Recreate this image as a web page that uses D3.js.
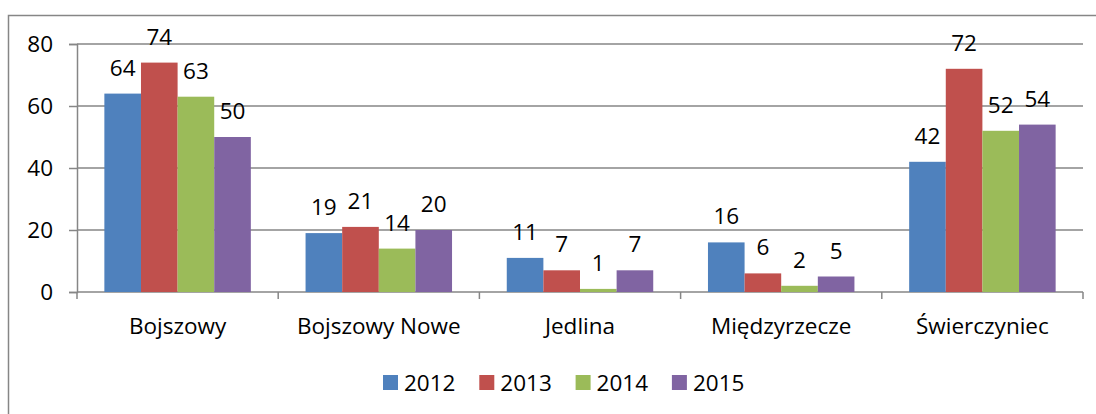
<!DOCTYPE html>
<html>
<head>
<meta charset="utf-8">
<script src="https://cdn.jsdelivr.net/npm/d3@7"></script>
<style>
  body { margin: 0; background: #fff; }
  text { font-family: "Open Sans", Lato, sans-serif; fill: #000; }
</style>
</head>
<body>
<svg id="svg"></svg>
<script>
// chart data
var categories = ["Bojszowy", "Bojszowy Nowe", "Jedlina", "Międzyrzecze", "Świerczyniec"];
var years = ["2012", "2013", "2014", "2015"];
var v2012 = [64, 19, 11, 16, 42];
var v2013 = [74, 21, 7, 6, 72];
var v2014 = [63, 14, 1, 2, 52];
var v2015 = [50, 20, 7, 5, 54];
var yTicks = [0, 20, 40, 60, 80];
var colors = ["#4F81BD", "#C0504D", "#9BBB59", "#8064A2"];

var series = [v2012, v2013, v2014, v2015];

svg = d3.select("#svg")
        .attr("width", 1096)
        .attr("height", 414);

// outer frame
svg.append("rect")
   .attr("x", 8.5).attr("y", 15.5)
   .attr("width", 1100).attr("height", 420)
   .attr("fill", "none")
   .attr("stroke", "#868686")
   .attr("stroke-width", 1.5);

var plotL = 77, plotR = 1083, plotT = 44, plotB = 292;
var fs = "22.5px";

x0 = d3.scaleBand().domain(categories).range([plotL, plotR]).paddingInner(0.272).paddingOuter(0.136);
x1 = d3.scaleBand().domain(years).range([0, x0.bandwidth()]);
y = d3.scaleLinear().domain([0, 80]).range([plotB, plotT]);

// gridlines
svg.append("g").selectAll("line")
   .data(yTicks.filter(function(d){ return d > 0; }))
   .enter().append("line")
   .attr("x1", plotL).attr("x2", plotR)
   .attr("y1", function(d){ return y(d); })
   .attr("y2", function(d){ return y(d); })
   .attr("stroke", "#868686").attr("stroke-width", 1.5);

// y axis
yAxis = svg.append("g")
   .attr("transform", "translate(" + plotL + ",0)")
   .call(d3.axisLeft(y).tickValues(yTicks).tickSize(8).tickPadding(16));
yAxis.select(".domain").attr("stroke", "#868686").attr("stroke-width", 1.5);
yAxis.selectAll(".tick line").attr("stroke", "#868686").attr("stroke-width", 1.5);
yAxis.selectAll("text").style("font-size", fs).attr("fill", "#000")
     .style("font-family", "'Open Sans', Lato, sans-serif");

// x axis
var bounds = d3.range(categories.length + 1).map(function(i){ return plotL + i * (plotR - plotL) / categories.length; });
svg.append("line")
   .attr("x1", plotL).attr("x2", plotR)
   .attr("y1", plotB).attr("y2", plotB)
   .attr("stroke", "#868686").attr("stroke-width", 1.5);
svg.append("g").selectAll("line")
   .data(bounds).enter().append("line")
   .attr("x1", function(d){ return d; }).attr("x2", function(d){ return d; })
   .attr("y1", plotB).attr("y2", plotB + 7)
   .attr("stroke", "#868686").attr("stroke-width", 1.5);

svg.append("g").selectAll("text")
   .data(categories).enter().append("text")
   .attr("x", function(d){ return x0(d) + x0.bandwidth() / 2; })
   .attr("y", 334)
   .attr("text-anchor", "middle")
   .style("font-size", fs)
   .text(function(d){ return d; });

// bars
groups = svg.append("g").selectAll("g")
   .data(series).enter().append("g");

groups.each(function(vals, si){
  var g = d3.select(this);
  g.selectAll("rect").data(vals).enter().append("rect")
   .attr("x", function(d, ci){ return x0(categories[ci]) + x1(years[si]); })
   .attr("y", function(d){ return y(d); })
   .attr("width", x1.bandwidth())
   .attr("height", function(d){ return plotB - y(d); })
   .attr("fill", colors[si]);
  g.selectAll("text").data(vals).enter().append("text")
   .attr("x", function(d, ci){ return x0(categories[ci]) + x1(years[si]) + x1.bandwidth() / 2; })
   .attr("y", function(d){ return y(d) - 18; })
   .attr("text-anchor", "middle")
   .style("font-size", fs)
   .text(function(d){ return d; });
});

// legend
legend = svg.append("g").selectAll("g")
   .data(years).enter().append("g")
   .attr("transform", function(d, i){ return "translate(" + (383 + i * 96.3) + ",375)"; });
legend.append("rect")
   .attr("width", 15).attr("height", 15)
   .attr("fill", function(d, i){ return colors[i]; });
legend.append("text")
   .attr("x", 21).attr("y", 16)
   .style("font-size", fs)
   .text(function(d){ return d; });
</script>
</body>
</html>
